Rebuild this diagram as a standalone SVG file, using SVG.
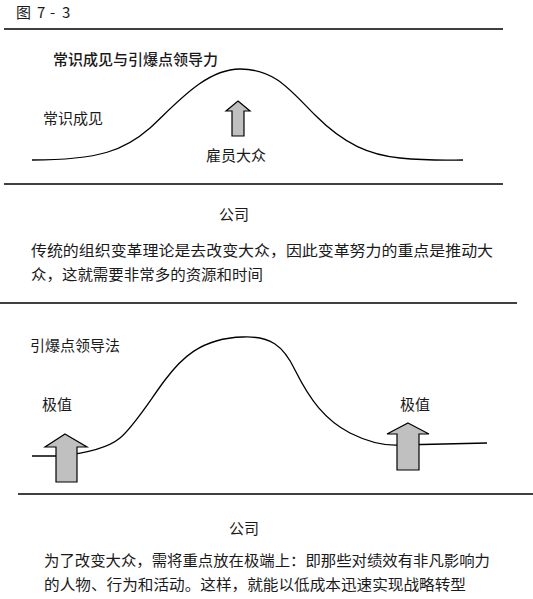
<svg xmlns="http://www.w3.org/2000/svg" width="533" height="599" viewBox="0 0 533 599">
<defs>
<style>
.t{font-family:"Noto Sans CJK SC","Liberation Serif",sans-serif;font-size:15px;fill:#1a1a1a}
.rule{stroke:#000;stroke-width:1.5;fill:none}
.curve{stroke:#000;stroke-width:1.3;fill:none}
.arrow{fill:#c0c0c0;stroke:#000;stroke-width:1.2;stroke-linejoin:miter}
</style>
</defs>
<rect width="533" height="599" fill="#fff"/>
<g id="caption">
<text class="t" x="16" y="18" font-size="14">图</text>
<text class="t" x="37" y="18" font-size="14">7</text>
<text class="t" x="50" y="18" font-size="14">-</text>
<text class="t" x="62" y="18" font-size="14">3</text>
</g>
<g id="rules">
<line class="rule" x1="4" y1="29" x2="503" y2="29"/>
<line class="rule" x1="4" y1="184" x2="503" y2="184"/>
<line class="rule" x1="0" y1="303" x2="517" y2="303"/>
<line class="rule" x1="18" y1="494" x2="533" y2="494"/>
</g>
<g id="connectors">
<path id="curve1" class="curve" d="M32,160 C100,160 125,150 150,128 C175,105 205,69 240,69 C275,69 290,90 315,115 C345,145 370,155 400,158 C430,161 450,160 463,160"/>
<path id="curve2" class="curve" d="M32,456 L60,456 C88,453 108,448 120,438 C135,425 150,400 165,380 C180,360 200,338 243,337 C270,336 283,345 295,370 C310,400 325,420 350,433 C370,443 385,446 400,445 L487,443"/>
</g>
<g id="panel1">
<text class="t" x="53" y="65" font-weight="500">常识成见与引爆点领导力</text>
<text class="t" x="43" y="124">常识成见</text>
<g id="arrow-mass"><polygon class="arrow" points="238,101 250,111 244,111 244,136 232,136 232,111 226,111"/></g>
<text class="t" x="206" y="161">雇员大众</text>
<text class="t" x="234" y="220" text-anchor="middle">公司</text>
<text class="t" x="31" y="256" textLength="462" lengthAdjust="spacingAndGlyphs">传统的组织变革理论是去改变大众，因此变革努力的重点是推动大</text>
<text class="t" x="31" y="280" textLength="232" lengthAdjust="spacingAndGlyphs">众，这就需要非常多的资源和时间</text>
</g>
<g id="panel2">
<text class="t" x="30" y="351">引爆点领导法</text>
<text class="t" x="42" y="410">极值</text>
<text class="t" x="400" y="410">极值</text>
<g id="arrow-left"><polygon class="arrow" points="65,434 87,447 77,447 77,482 56,482 56,447 45,447"/></g>
<g id="arrow-right"><polygon class="arrow" points="408,423 429,434 419,434 419,470 397,470 397,434 387,434"/></g>
<text class="t" x="244" y="534" text-anchor="middle">公司</text>
<text class="t" x="44" y="566" textLength="446" lengthAdjust="spacingAndGlyphs">为了改变大众，需将重点放在极端上：即那些对绩效有非凡影响力</text>
<text class="t" x="44" y="590" textLength="422" lengthAdjust="spacingAndGlyphs">的人物、行为和活动。这样，就能以低成本迅速实现战略转型</text>
</g>
</svg>
